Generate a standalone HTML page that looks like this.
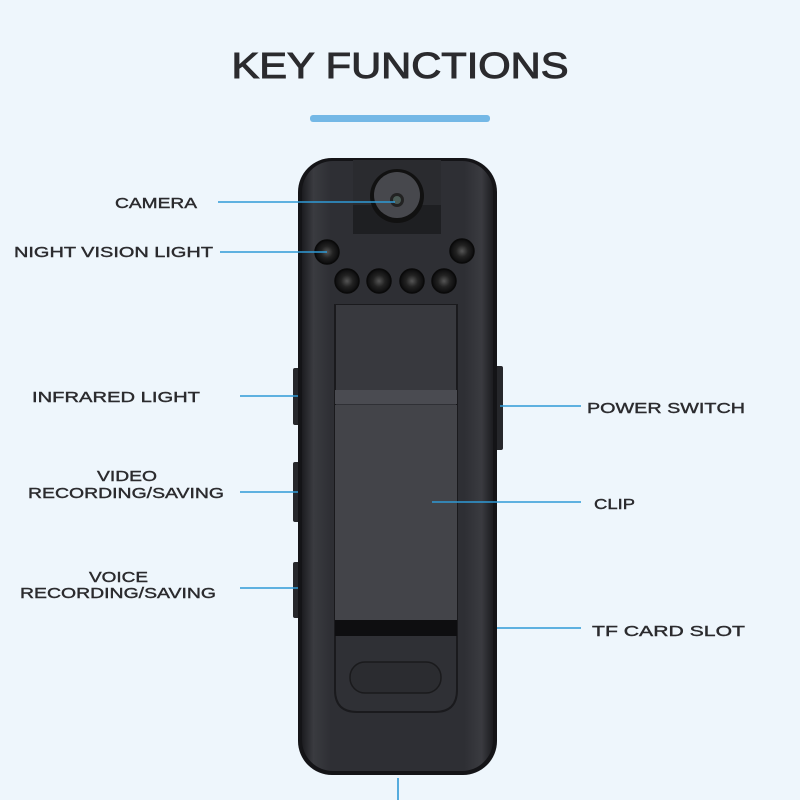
<!DOCTYPE html>
<html><head><meta charset="utf-8"><style>
html,body{margin:0;padding:0;background:#eef6fc;}
svg{display:block}
text{font-family:"Liberation Sans","DejaVu Sans",sans-serif;font-weight:normal;fill:#2b2b2e;stroke:#2b2b2e;stroke-width:0.4;}
</style></head><body>
<svg width="800" height="800" viewBox="0 0 800 800" xmlns="http://www.w3.org/2000/svg">
<defs>
<linearGradient id="body" x1="0" x2="1" y1="0" y2="0">
<stop offset="0" stop-color="#1c1c20"/><stop offset="0.06" stop-color="#3a3b40"/><stop offset="0.15" stop-color="#2e2f34"/><stop offset="0.85" stop-color="#2e2f34"/><stop offset="0.94" stop-color="#3a3b40"/><stop offset="1" stop-color="#1c1c20"/>
</linearGradient>
<radialGradient id="led"><stop offset="0" stop-color="#555"/><stop offset="0.5" stop-color="#222"/><stop offset="1" stop-color="#0b0b0c"/></radialGradient>
</defs>
<rect width="800" height="800" fill="#eef6fc"/>
<text x="400" y="78" font-size="36" text-anchor="middle" textLength="337" lengthAdjust="spacingAndGlyphs" style="stroke-width:1">KEY FUNCTIONS</text>
<rect x="310" y="115" width="180" height="7" rx="3" fill="#74b8e6"/>

<rect x="293" y="368" width="8" height="57" rx="2" fill="#26272b"/>
<rect x="293" y="462" width="8" height="60" rx="2" fill="#26272b"/>
<rect x="293" y="562" width="8" height="56" rx="2" fill="#26272b"/>
<rect x="495" y="366" width="8" height="84" rx="2" fill="#26272b"/>

<rect x="298" y="158" width="199" height="617" rx="34" fill="#141417"/>
<rect x="302" y="161" width="191" height="610" rx="31" fill="url(#body)"/>
<rect x="353" y="160" width="88" height="74" fill="#2a2b2f"/>
<rect x="353" y="205" width="88" height="29" fill="#1e1f22"/>
<circle cx="397" cy="196" r="27" fill="#111"/>
<circle cx="397" cy="195" r="23" fill="#47484d"/>
<circle cx="397" cy="200" r="7" fill="#222"/>
<circle cx="397" cy="200" r="4" fill="#4a5a55"/>
<g fill="url(#led)" stroke="#0a0a0a" stroke-width="1.5">
<circle cx="327" cy="252" r="12"/><circle cx="462" cy="251" r="12"/>
<circle cx="347" cy="281" r="12"/><circle cx="379" cy="281" r="12"/><circle cx="412" cy="281" r="12"/><circle cx="444" cy="281" r="12"/>
</g>
<path d="M335 305 H457 V690 Q457 712 435 712 H357 Q335 712 335 690 Z" fill="#2f3035" stroke="#1a1a1d" stroke-width="2"/>
<rect x="336" y="305" width="120" height="85" fill="#38393e"/>
<rect x="335" y="390" width="122" height="14" fill="#4a4b51"/>
<rect x="335" y="405" width="122" height="215" fill="#434449"/>
<rect x="335" y="620" width="122" height="16" fill="#0e0e10"/>
<rect x="350" y="662" width="91" height="31" rx="15" fill="#2b2c30" stroke="#1a1a1c" stroke-width="1.5"/>

<g stroke="#2f9ad6" stroke-width="1.6">
<line x1="218" y1="202" x2="395" y2="202"/>
<line x1="220" y1="252" x2="327" y2="252"/>
<line x1="240" y1="396" x2="298" y2="396"/>
<line x1="240" y1="492" x2="298" y2="492"/>
<line x1="240" y1="588" x2="298" y2="588"/>
<line x1="500" y1="406" x2="581" y2="406"/>
<line x1="432" y1="502" x2="581" y2="502"/>
<line x1="497" y1="628" x2="581" y2="628"/>
<line x1="398" y1="778" x2="398" y2="800"/>
</g>

<g font-size="15">
<text x="115" y="208" textLength="82" lengthAdjust="spacingAndGlyphs">CAMERA</text>
<text x="14" y="257" textLength="199" lengthAdjust="spacingAndGlyphs">NIGHT VISION LIGHT</text>
<text x="32" y="402" textLength="168" lengthAdjust="spacingAndGlyphs">INFRARED LIGHT</text>
<text x="97" y="481" textLength="60" lengthAdjust="spacingAndGlyphs">VIDEO</text>
<text x="28" y="498" textLength="196" lengthAdjust="spacingAndGlyphs">RECORDING/SAVING</text>
<text x="89" y="582" textLength="59" lengthAdjust="spacingAndGlyphs">VOICE</text>
<text x="20" y="598" textLength="196" lengthAdjust="spacingAndGlyphs">RECORDING/SAVING</text>
<text x="587" y="413" textLength="158" lengthAdjust="spacingAndGlyphs">POWER SWITCH</text>
<text x="594" y="509" textLength="41" lengthAdjust="spacingAndGlyphs">CLIP</text>
<text x="592" y="636" textLength="153" lengthAdjust="spacingAndGlyphs">TF CARD SLOT</text>
</g>
</svg>
</body></html>
